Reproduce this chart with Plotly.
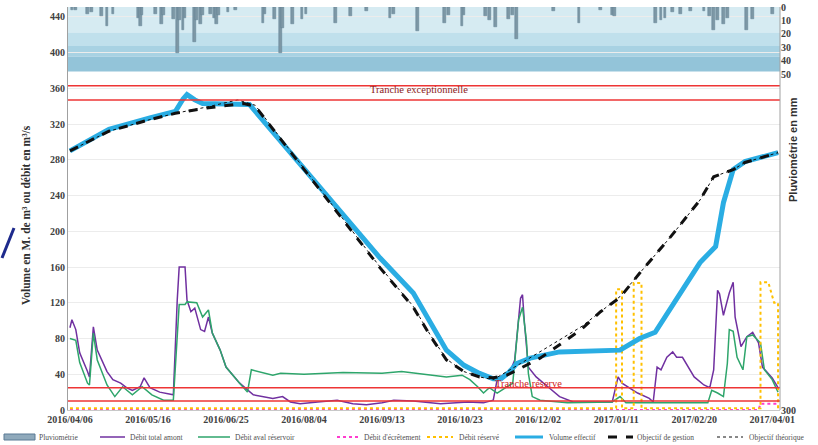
import pandas as pd
import plotly.graph_objects as go

BASE = pd.Timestamp("2016-04-06")


def days(offsets):
    return [BASE + pd.Timedelta(days=d) for d in offsets]


# Rainfall (mm), day offsets from 2016-04-06
rain_day = [1, 3, 9, 11, 16, 19, 22, 35, 36, 37, 44, 47, 48, 53, 55, 56, 58, 59, 64, 65,
            67, 68, 72, 74, 75, 76, 81, 85, 99, 100, 105, 108, 109, 114, 119, 121, 136, 144,
            152, 164, 166, 178, 192, 194, 201, 202, 213, 215, 218, 225, 227, 229, 248, 261,
            272, 278, 279, 300, 303, 305, 309, 313, 318, 325, 328, 330, 332, 335, 337, 347,
            350, 360]
rain_mm = [2, 2, 5, 4, 7, 14, 5, 8, 14, 6, 5, 13, 6, 9, 34, 10, 17, 8, 26, 10,
           13, 6, 5, 8, 13, 6, 4, 2, 12, 5, 9, 34, 16, 13, 9, 5, 12, 7,
           3, 8, 5, 18, 12, 6, 14, 6, 7, 10, 15, 9, 6, 24, 3, 12,
           2, 6, 7, 12, 10, 8, 4, 5, 3, 3, 7, 17, 10, 13, 8, 17,
           9, 5]

# Upstream total flow
amont_day = [0, 1, 3, 5, 9, 10, 12, 14, 19, 22, 26, 29, 32, 36, 38, 41, 46, 50, 53, 55,
             56, 59, 60, 62, 64, 67, 69, 71, 73, 77, 80, 87, 94, 104, 109, 113, 118, 127,
             137, 145, 152, 160, 166, 176, 190, 204, 212, 217, 219, 222, 226, 228, 231, 232,
             233, 235, 239, 245, 251, 258, 278, 281, 283, 291, 297, 299, 301, 303, 306, 309,
             311, 314, 317, 320, 325, 328, 330, 332, 333, 335, 338, 340, 341, 344, 347, 350,
             353, 355, 360, 363]
amont_val = [92, 101, 90, 64, 43, 37, 93, 67, 43, 34, 30, 25, 22, 26, 36, 25, 20, 18, 17, 123,
             160, 160, 123, 110, 114, 90, 88, 104, 86, 67, 48, 30, 17, 13, 15, 9, 7, 9,
             11, 7, 6, 8, 11, 10, 7, 9, 8, 11, 34, 39, 45, 56, 125, 129,
             97, 48, 37, 26, 15, 9, 9, 37, 30, 19, 13, 9, 48, 45, 59, 65,
             59, 59, 48, 37, 28, 25, 45, 134, 130, 106, 131, 143, 104, 71, 82, 87,
             75, 48, 36, 25]

# Downstream flow (reservoir outlet)
aval_day = [0, 3, 5, 9, 10, 12, 14, 19, 23, 27, 32, 37, 42, 48, 53, 56, 59, 60, 65, 68,
            71, 73, 77, 80, 87, 91, 93, 97, 104, 108, 120, 140, 160, 170, 185, 193, 201, 205,
            209, 212, 215, 219, 224, 227, 230, 232, 234, 235, 237, 241, 255, 278, 282, 285,
            327, 329, 332, 335, 337, 338, 340, 342, 345, 347, 350, 354, 356, 360, 363]
aval_val = [80, 78, 53, 30, 28, 86, 56, 28, 15, 26, 17, 26, 17, 11, 11, 118, 118, 121, 120, 104,
            112, 86, 67, 48, 30, 20, 45, 43, 39, 41, 40, 42, 41, 43, 39, 37, 39, 34,
            26, 19, 25, 19, 26, 30, 101, 115, 78, 41, 15, 11, 8, 9, 15, 8,
            8, 22, 19, 15, 52, 90, 88, 59, 45, 82, 84, 75, 45, 34, 20]

# Spillway flow
ecret_day = [0, 353, 354, 363]
ecret_val = [0, 0, 7, 7]

# Reserved flow
reserve_day = [0, 280, 280, 283, 283, 289, 289, 293, 293, 354, 354, 358, 361, 363, 363]
reserve_val = [2, 2, 135, 135, 2, 2, 142, 142, 2, 2, 143, 143, 120, 120, 2]

# Actual stored volume
vol_day = [0, 20, 41, 54, 58, 60, 64, 68, 92, 159, 176, 185, 193, 202, 210, 217, 221,
           225, 229, 236, 251, 282, 292, 300, 313, 323, 331, 335, 340, 346, 363]
vol_val = [290, 314, 327, 334, 348, 353, 347, 343, 342, 170, 131, 97, 67, 50, 41, 35, 35,
           42, 52, 58, 65, 67, 80, 87, 131, 165, 183, 232, 269, 278, 288]

# Management target
gestion_day = [0, 20, 41, 54, 70, 89, 95, 159, 176, 185, 193, 202, 210, 217, 224, 231, 241,
               251, 262, 272, 282, 292, 308, 323, 330, 340, 346, 363]
gestion_val = [290, 312, 325, 332, 338, 343, 340, 159, 115, 82, 56, 43, 37, 36, 39, 47, 58,
               73, 90, 110, 126, 153, 194, 235, 261, 269, 277, 288]

# Theoretical target
theo_day = [0, 20, 41, 54, 70, 86, 95, 159, 176, 185, 193, 202, 210, 217, 231, 241, 251,
            262, 272, 282, 292, 308, 323, 330, 340, 346, 363]
theo_val = [290, 312, 325, 332, 339, 347, 341, 160, 116, 83, 57, 43, 37, 34, 52, 65, 78,
            93, 110, 127, 153, 194, 235, 261, 269, 277, 288]

# Operating bands (M. m3)
band_exceptionnelle = [347, 363]
band_reserve = [10, 25]

# Rain-zone shading (mm on the rain axis)
rain_zone_edges = [0, 19, 29, 37, 48]
rain_zone_colors = ["#d6ebf2", "#c0e0ec", "#a8d2e3", "#93c4d9"]

x_ticks = [BASE + pd.Timedelta(days=40 * i) for i in range(10)]

SERIF = "Liberation Serif"
TICK_FONT = dict(family=SERIF, size=10, color="#404040", weight="bold")

# Figure geometry (px) used to place the hand-drawn legend row
W, H = 818, 445
M_L, M_R, M_T, M_B = 68, 38, 7, 35
PLOT_W = W - M_L - M_R
PLOT_H = H - M_T - M_B


def px_x(px):
    return (px - M_L) / PLOT_W


def px_y(py):
    return (H - M_B - py) / PLOT_H


fig = go.Figure()

fig.add_trace(go.Bar(
    x=days(rain_day), y=rain_mm, yaxis="y2", name="Pluviométrie",
    marker=dict(color="#7d97a5", line=dict(color="#5f7f93", width=0.5)),
    width=1.4 * 86400000,
))

line_series = [
    ("Débit total amont", amont_day, amont_val, "#7030a0", 1.5, "solid"),
    ("Débit aval réservoir", aval_day, aval_val, "#2ea56b", 1.5, "solid"),
    ("Débit d'écrêtement", ecret_day, ecret_val, "#ff3ccf", 2, "dot"),
    ("Débit réservé", reserve_day, reserve_val, "#ffc000", 2, "dot"),
    ("Volume effectif", vol_day, vol_val, "#2aade3", 5, "solid"),
    ("Objectif de gestion", gestion_day, gestion_val, "#111111", 3, "dash"),
    ("Objectif théorique", theo_day, theo_val, "#111111", 1, "dot"),
]
for name, d, v, col, w, dash in line_series:
    fig.add_trace(go.Scatter(x=days(d), y=v, mode="lines", name=name,
                             line=dict(color=col, width=w, dash=dash)))

shapes = []
# Shaded rain zone, stacked bands from light to dark
for lo, hi, col in zip(rain_zone_edges[:-1], rain_zone_edges[1:], rain_zone_colors):
    shapes.append(dict(type="rect", xref="paper", yref="y2", x0=0, x1=1, y0=lo, y1=hi,
                       fillcolor=col, line=dict(width=0), layer="below"))
# Operating band limits
for v in band_exceptionnelle + band_reserve:
    shapes.append(dict(type="line", xref="paper", yref="y", x0=0, x1=1, y0=v, y1=v,
                       line=dict(color="#ee3535", width=1.5)))
# Frame line on the right
shapes.append(dict(type="line", xref="paper", yref="paper", x0=1, x1=1, y0=0, y1=1,
                   line=dict(color="#a0a0a0", width=1)))
# Pen stroke on the left margin
shapes.append(dict(type="line", xref="paper", yref="paper", x0=px_x(2), y0=px_y(258),
                   x1=px_x(14), y1=px_y(228), line=dict(color="#1e2a8c", width=3)))

annotations = [
    dict(x=BASE + pd.Timedelta(days=179), y=359, xref="x", yref="y",
         text="Tranche exceptionnelle", showarrow=False,
         font=dict(family=SERIF, size=10.5, color="#8b1a1a")),
    dict(x=BASE + pd.Timedelta(days=235), y=30, xref="x", yref="y",
         text="Tranche réserve", showarrow=False,
         font=dict(family=SERIF, size=10.5, color="#d02020")),
    dict(x=px_x(18), y=px_y(215), xref="paper", yref="paper", textangle=-90,
         text="<b>Volume en M. de m³ ou débit en m³/s</b>",
         showarrow=False, font=dict(family=SERIF, size=11.5, color="#303030")),
    dict(x=px_x(801), y=px_y(150), xref="paper", yref="paper", textangle=-90,
         text="<b>Pluviométrie en mm</b>", showarrow=False,
         font=dict(family="Liberation Sans", size=11, color="#303030")),
]

# Legend row along the bottom edge: (symbol start, symbol end, text start) in px
LEG_Y = 437
legend_slots = [(4, 35, 37), (100, 125, 128), (198, 230, 233), (337, 360, 362),
                (427, 453, 457), (515, 543, 547), (608, 633, 635), (717, 743, 747)]
LEG_FONT = dict(family=SERIF, size=7.5, color="#505050")

x0, x1, xt = legend_slots[0]
shapes.append(dict(type="rect", xref="paper", yref="paper",
                   x0=px_x(x0), x1=px_x(x1), y0=px_y(LEG_Y + 3), y1=px_y(LEG_Y - 3),
                   fillcolor="#8fa9bb", line=dict(color="#5a7a95", width=1)))
annotations.append(dict(x=px_x(xt), y=px_y(LEG_Y), xref="paper", yref="paper",
                        xanchor="left", yanchor="middle", showarrow=False,
                        text="Pluviométrie", font=LEG_FONT))
for (x0, x1, xt), (name, _, _, col, w, dash) in zip(legend_slots[1:], line_series):
    shapes.append(dict(type="line", xref="paper", yref="paper",
                       x0=px_x(x0), x1=px_x(x1), y0=px_y(LEG_Y), y1=px_y(LEG_Y),
                       line=dict(color=col, width=min(w, 3), dash=dash)))
    annotations.append(dict(x=px_x(xt), y=px_y(LEG_Y), xref="paper", yref="paper",
                            xanchor="left", yanchor="middle", showarrow=False,
                            text=name, font=LEG_FONT))

fig.update_layout(
    width=W, height=H,
    margin=dict(l=M_L, r=M_R, t=M_T, b=M_B),
    paper_bgcolor="white", plot_bgcolor="white",
    bargap=0,
    shapes=shapes,
    annotations=annotations,
    showlegend=False,
    xaxis=dict(
        type="date", range=["2016-04-05", "2017-04-05"],
        tickvals=x_ticks, tickformat="%Y/%m/%d", tickfont=TICK_FONT,
        showgrid=False, showline=True, linecolor="#c8c8c8", ticks="",
        zeroline=False, automargin=False,
    ),
    yaxis=dict(
        range=[0, 451], tickvals=list(range(0, 441, 40)), tickfont=TICK_FONT,
        showgrid=True, gridcolor="#ececec", gridwidth=1,
        showline=True, linecolor="#a0a0a0", zeroline=False, ticks="",
        automargin=False,
    ),
    yaxis2=dict(
        overlaying="y", side="right", range=[300, 0],
        tickvals=[0, 10, 20, 30, 40, 50, 300], tickfont=TICK_FONT,
        showgrid=False, zeroline=False, showline=False, ticks="",
        automargin=False,
    ),
)

fig.write_html("out.html")
